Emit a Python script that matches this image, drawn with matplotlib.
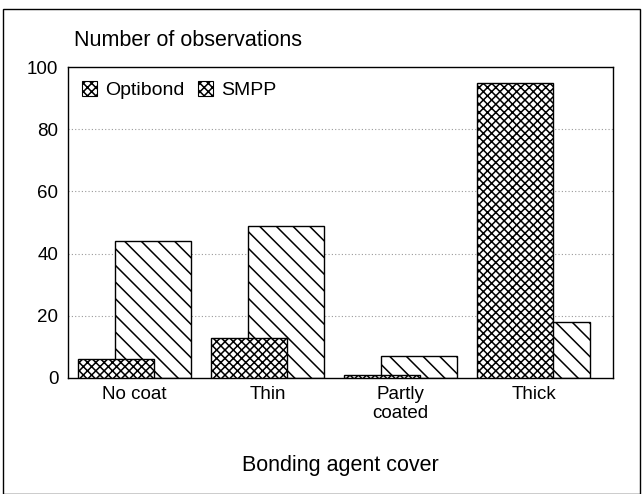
import numpy as np
from matplotlib import pyplot as plt
from matplotlib.patches import Patch, Rectangle

plt.rcParams['font.family'] = ['Liberation Sans', 'DejaVu Sans']
plt.rcParams['hatch.linewidth'] = 1.1

categories = ['No coat', 'Thin', 'Partly\ncoated', 'Thick']
optibond = [6, 13, 1, 95]
smpp = [44, 49, 7, 18]
series_names = ['Optibond', 'SMPP']

fig = plt.figure(figsize=(6.44, 4.94), dpi=100)
ax = fig.add_axes([0.1056, 0.235, 0.847, 0.629])

x = np.arange(len(categories))
w = 0.57
ax.bar(x + 0.14, smpp, w, color='white', edgecolor='black', hatch='\\\\', linewidth=1.0, zorder=2)
ax.bar(x - 0.14, optibond, w, color='white', edgecolor='black', hatch='xxxx', linewidth=1.0, zorder=3)

ax.set_xlim(-0.5, 3.6)
ax.set_ylim(0, 100)
ax.set_yticks([0, 20, 40, 60, 80, 100])
ax.set_xticks(x)
ax.set_xticklabels(categories, fontsize=13.5, linespacing=1.1)
ax.tick_params(axis='y', labelsize=13.5, length=0, pad=7)
ax.tick_params(axis='x', length=0, pad=6)
for yv in [20, 40, 60, 80]:
    ax.axhline(yv, color='#999999', linestyle=(0, (1, 2)), linewidth=0.8, zorder=1)
for s in ax.spines.values():
    s.set_linewidth(1.0)

ax.set_xlabel('Bonding agent cover', fontsize=15.5, labelpad=24)
fig.text(0.115, 0.919, 'Number of observations', fontsize=15.5, va='center', ha='left')

handles = [Patch(facecolor='white', edgecolor='black', hatch='xxxx', linewidth=0.8) for _ in series_names]
ax.legend(handles, series_names, loc='upper left', frameon=False, fontsize=14,
          handlelength=0.8, handleheight=0.8, handletextpad=0.4, columnspacing=0.7,
          ncol=2, borderaxespad=0.3, borderpad=0.4)

fig.patches.append(Rectangle((0.005, 0.0), 0.989, 0.982, transform=fig.transFigure,
                             fill=False, edgecolor='black', linewidth=1.0))

fig.savefig('out.png', dpi=100)
